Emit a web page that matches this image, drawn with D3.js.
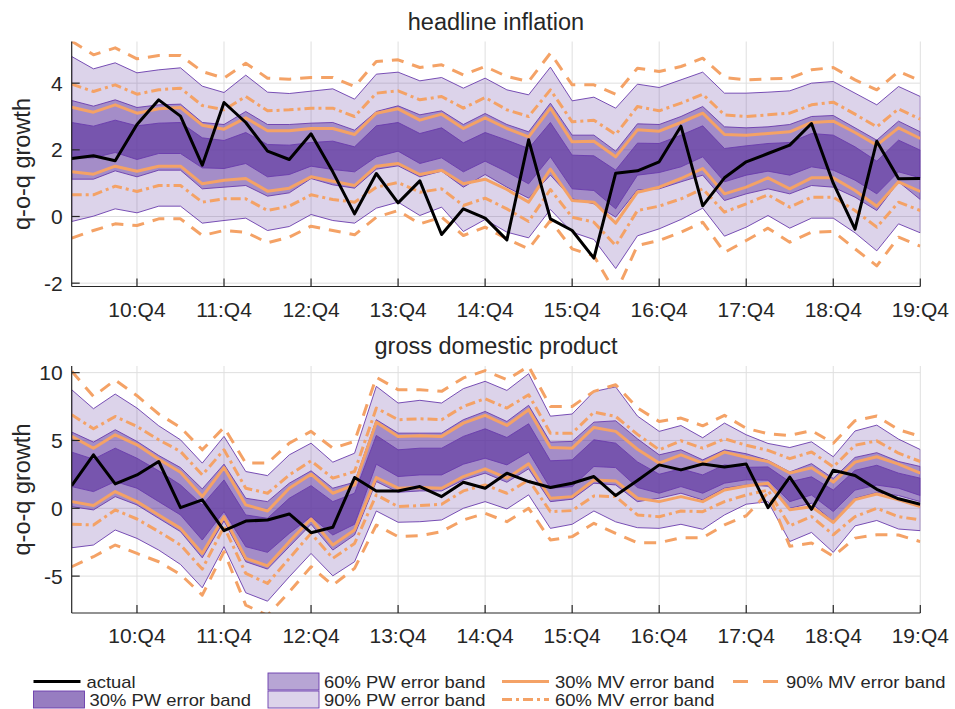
<!DOCTYPE html>
<html><head><meta charset="utf-8">
<script src="https://cdn.jsdelivr.net/npm/d3@7"></script>
<style>
body{margin:0;background:#fff}
svg{display:block}
text{font-family:"Liberation Sans",Arial,Helvetica,sans-serif;fill:#262626}
</style>
</head><body>
<svg id="c" width="955" height="709"></svg>
<script>
// ---------- categories ----------
const quarters = [
 "10:Q1","10:Q2","10:Q3","10:Q4","11:Q1","11:Q2","11:Q3","11:Q4",
 "12:Q1","12:Q2","12:Q3","12:Q4","13:Q1","13:Q2","13:Q3","13:Q4",
 "14:Q1","14:Q2","14:Q3","14:Q4","15:Q1","15:Q2","15:Q3","15:Q4",
 "16:Q1","16:Q2","16:Q3","16:Q4","17:Q1","17:Q2","17:Q3","17:Q4",
 "18:Q1","18:Q2","18:Q3","18:Q4","19:Q1","19:Q2","19:Q3","19:Q4"];
const tickQuarters = ["10:Q4","11:Q4","12:Q4","13:Q4","14:Q4","15:Q4","16:Q4","17:Q4","18:Q4","19:Q4"];

// ---------- headline inflation ----------
const infTicks = [-2,0,2,4];
const infActual = [1.74,1.82,1.67,2.76,3.5,3.01,1.54,3.42,2.82,1.96,1.71,2.48,1.34,0.08,1.29,0.41,1.07,-0.54,0.23,-0.05,-0.7,2.3,-0.07,-0.42,-1.25,1.3,1.37,1.64,2.71,0.32,1.16,1.64,1.89,2.14,2.79,1.0,-0.38,2.26,1.13,1.14];
const infPW90Hi = [4.8,4.43,4.61,4.31,4.4,4.46,3.91,3.72,4.24,3.73,3.69,3.76,3.83,3.52,4.27,4.33,4.07,4.17,3.85,4.15,3.8,3.65,4.48,3.47,3.58,3.25,3.97,3.87,4.1,4.33,3.7,3.7,3.73,3.77,4.0,4.05,3.7,3.35,3.9,3.6];
const infPW90Lo = [-0.15,0.01,0.23,0.11,0.31,0.31,-0.2,-0.12,-0.05,-0.42,-0.3,0.06,-0.12,-0.2,0.25,0.43,0.03,0.28,-0.45,-0.09,-0.47,-0.64,0.21,-0.47,-0.69,-1.56,-0.58,-0.37,-0.09,0.25,-0.59,-0.32,0.03,-0.35,-0.05,-0.05,-0.49,-1.03,-0.22,-0.49];
const infPW60Hi = [3.48,3.31,3.5,3.27,3.35,3.37,2.82,2.76,3.15,2.76,2.76,2.8,2.82,2.59,3.15,3.32,3.05,3.17,2.76,3.09,2.76,2.54,3.4,2.44,2.44,1.96,2.78,2.76,3.0,3.3,2.69,2.66,2.69,2.76,3.0,3.03,2.66,2.29,2.86,2.54];
const infPW60Lo = [1.12,1.12,1.37,1.19,1.39,1.39,0.83,0.88,0.93,0.61,0.71,1.14,0.95,0.85,1.42,1.52,1.19,1.36,0.88,1.26,0.88,0.55,1.24,0.53,0.38,-0.02,0.8,0.83,1.04,1.24,0.48,0.68,0.83,0.68,0.93,0.88,0.58,0.18,1.04,0.51];
const infPW30Hi = [2.82,2.71,2.89,2.72,2.8,2.82,2.36,2.28,2.52,2.16,2.14,2.22,2.26,2.09,2.72,2.82,2.49,2.66,2.21,2.52,2.29,2.04,2.82,1.84,1.82,1.39,2.2,2.19,2.44,2.72,2.04,2.12,2.19,2.22,2.49,2.44,2.09,1.66,2.29,1.99];
const infPW30Lo = [1.76,1.76,1.92,1.71,1.89,1.89,1.46,1.44,1.59,1.19,1.26,1.51,1.41,1.34,1.79,1.96,1.59,1.76,1.34,1.66,1.34,0.98,1.79,0.83,0.78,0.23,1.24,1.32,1.49,1.79,1.04,1.24,1.36,1.24,1.49,1.39,1.09,0.68,1.34,1.16];
const infMV30Hi = [3.28,3.13,3.35,3.1,3.23,3.27,2.74,2.62,2.96,2.57,2.57,2.64,2.64,2.46,3.1,3.23,2.89,3.07,2.64,2.96,2.64,2.39,3.25,2.24,2.26,1.79,2.6,2.56,2.82,3.1,2.46,2.44,2.49,2.54,2.82,2.86,2.52,2.14,2.66,2.34];
const infMV30Lo = [1.34,1.27,1.51,1.36,1.51,1.51,0.98,1.09,1.14,0.76,0.85,1.19,1.06,0.93,1.51,1.59,1.26,1.39,0.98,1.12,0.81,0.43,1.42,0.48,0.43,-0.2,0.73,0.88,1.14,1.44,0.68,0.88,1.16,0.83,1.16,1.16,0.78,0.31,1.04,0.75];
const infMV60Hi = [3.97,3.75,3.95,3.67,3.8,3.85,3.33,3.2,3.6,3.17,3.2,3.25,3.25,3.0,3.7,3.77,3.5,3.6,3.25,3.57,3.2,3.0,3.8,2.84,2.89,2.46,3.3,3.17,3.4,3.67,3.05,3.0,3.05,3.1,3.35,3.43,3.07,2.69,3.23,2.92];
const infMV60Lo = [0.65,0.65,0.91,0.75,0.93,0.93,0.43,0.53,0.53,0.18,0.31,0.65,0.51,0.43,0.88,1.02,0.73,0.83,0.33,0.55,0.23,-0.15,0.81,-0.02,-0.17,-0.87,0.18,0.31,0.53,0.83,0.13,0.38,0.65,0.28,0.58,0.58,0.18,-0.32,0.43,0.18];
const infMV90Hi = [5.26,4.85,5.06,4.73,4.83,4.83,4.35,4.15,4.6,4.15,4.12,4.17,4.17,3.9,4.65,4.7,4.47,4.55,4.25,4.5,4.2,4.05,4.9,3.95,3.95,3.67,4.45,4.35,4.5,4.75,4.17,4.1,4.13,4.15,4.4,4.47,4.1,3.8,4.35,4.07];
const infMV90Lo = [-0.65,-0.42,-0.22,-0.27,-0.07,-0.07,-0.57,-0.42,-0.47,-0.79,-0.62,-0.29,-0.42,-0.55,-0.02,0.18,-0.22,-0.02,-0.57,-0.32,-0.67,-0.97,-0.12,-0.97,-1.18,-2.3,-0.87,-0.72,-0.47,-0.17,-1.08,-0.72,-0.35,-0.77,-0.47,-0.45,-0.97,-1.48,-0.62,-0.89];

// ---------- gross domestic product ----------
const gdpTicks = [-5,0,5,10];
const gdpActual = [1.67,3.94,1.8,2.46,3.45,0.05,0.62,-1.65,-0.94,-0.86,-0.42,-1.8,-1.4,2.27,1.28,1.28,1.6,0.86,1.92,1.48,2.59,1.97,1.53,1.85,2.34,0.94,2.05,3.2,2.83,3.26,3.05,3.26,0.05,2.3,-0.08,2.81,2.42,1.4,0.7,0.3];
const gdpPW90Hi = [8.74,7.34,8.42,7.39,6.08,5.05,3.33,5.3,2.71,2.41,3.94,4.8,3.4,4.06,8.99,7.76,7.96,7.76,8.82,9.36,8.69,9.92,6.79,6.95,8.61,8.95,6.8,5.67,6.1,5.2,6.28,5.42,4.78,4.48,4.9,3.8,5.7,6.13,5.1,4.33];
const gdpPW90Lo = [-2.91,-2.71,-1.6,-2.22,-3.08,-4.14,-5.86,-2.83,-6.23,-6.85,-5.05,-3.33,-4.98,-3.94,-0.2,-1.03,-0.99,-0.86,0.0,0.49,-0.05,0.99,-1.48,-1.18,-0.2,-1.0,-1.43,-1.48,-1.18,-1.55,-0.49,0.3,0.49,-2.45,-1.78,-3.25,-1.3,-0.9,-1.53,-1.65];
const gdpPW60Hi = [5.62,4.88,5.79,4.93,3.89,3.0,1.43,3.25,0.74,0.49,1.85,2.76,1.48,1.92,6.53,5.54,5.54,5.54,6.53,7.14,6.4,7.59,4.88,4.93,6.35,6.45,5.12,3.94,4.31,3.57,4.31,4.02,3.54,2.68,3.29,2.2,3.75,4.1,3.45,3.08];
const gdpPW60Lo = [0.12,-0.12,0.86,0.25,-0.74,-1.72,-3.65,-0.94,-3.94,-4.48,-2.83,-1.18,-3.08,-1.97,1.97,1.18,1.28,1.28,2.09,2.59,1.92,2.91,0.49,0.67,1.85,1.72,0.49,0.74,1.11,0.62,1.48,1.71,1.63,0.0,0.37,-0.98,0.73,1.15,0.94,0.49];
const gdpPW30Hi = [4.14,3.62,4.43,3.69,2.76,1.72,0.25,2.09,-0.49,-0.74,0.74,1.67,0.49,1.11,5.37,4.31,4.43,4.43,5.3,5.86,5.22,6.23,3.5,3.57,5.05,4.8,3.42,2.51,2.91,2.46,3.2,3.02,3.05,1.95,2.32,1.34,2.8,3.17,2.59,2.22];
const gdpPW30Lo = [1.6,1.23,1.97,1.48,0.49,-0.49,-2.34,-0.25,-2.83,-3.25,-1.85,-0.62,-1.97,-1.18,3.25,2.34,2.46,2.46,3.25,3.69,3.2,4.14,1.48,1.6,3.08,3.0,1.53,1.11,1.6,1.11,1.85,2.1,2.07,0.49,0.98,-0.24,1.34,1.71,1.48,0.94];
const gdpMV30Hi = [5.3,4.43,5.42,4.68,3.62,2.66,0.86,3.0,0.25,-0.2,1.48,2.51,1.11,1.72,6.35,5.3,5.34,5.3,6.28,6.85,6.11,7.27,4.48,4.43,5.96,5.67,4.35,3.33,3.94,3.33,4.14,3.76,3.45,2.6,2.98,1.93,3.4,3.8,3.25,2.59];
const gdpMV30Lo = [0.49,0.2,1.23,0.49,-0.49,-1.48,-3.33,-0.62,-3.69,-4.24,-2.46,-0.79,-2.71,-1.6,2.27,1.48,1.53,1.48,2.34,2.91,2.22,3.28,0.74,0.86,2.09,2.02,0.74,0.49,0.86,0.49,1.35,1.65,1.85,-0.1,0.12,-1.05,0.64,1.05,0.62,0.12];
const gdpMV60Hi = [6.9,5.86,6.77,6.03,5.05,4.19,2.46,4.31,1.48,1.11,2.46,3.5,2.22,2.71,7.39,6.53,6.6,6.53,7.51,8.08,7.39,8.37,5.54,5.54,7.09,6.77,5.45,4.31,4.98,4.43,5.12,4.65,4.27,3.66,4.15,3.05,4.65,4.97,4.06,3.45];
const gdpMV60Lo = [-1.18,-1.23,-0.12,-0.79,-1.72,-2.71,-4.48,-1.35,-4.8,-5.54,-3.69,-1.85,-3.69,-2.59,0.99,0.12,0.2,0.3,1.28,1.72,1.11,2.09,-0.25,-0.17,0.91,0.86,-0.49,-0.62,-0.2,-0.25,0.49,0.98,1.34,-1.3,-0.61,-1.95,-0.61,0.0,-0.62,-0.86];
const gdpMV90Hi = [10.1,8.25,9.46,8.3,6.95,5.96,4.31,5.96,3.33,3.33,4.8,5.67,4.43,4.93,9.66,8.74,8.74,8.62,9.61,10.15,9.48,10.47,7.51,7.51,8.62,9.11,7.4,6.4,6.65,6.08,6.85,5.9,5.49,5.37,5.73,4.8,6.46,6.8,5.79,5.3];
const gdpMV90Lo = [-4.31,-3.57,-2.71,-3.33,-3.94,-4.88,-6.4,-3.2,-7.14,-7.9,-6.16,-4.31,-5.67,-4.43,-1.23,-2.09,-2.02,-1.72,-0.86,-0.37,-0.99,0.0,-2.34,-2.09,-1.11,-1.85,-2.54,-2.54,-2.17,-2.17,-1.23,-0.55,1.15,-2.8,-2.56,-3.54,-2.2,-1.95,-1.97,-2.46];

// ---------- legend labels ----------
const legendLabels = ["actual","30% PW error band","60% PW error band","90% PW error band","30% MV error band","60% MV error band","90% MV error band"];

// ---------- styling / layout ----------
const xLeft = 71.7, xRight = 920.3;
const bandColor = "rgb(95,55,160)";
const bandEdge = "#6a3cad";
const orange = "#f4a266";
const axisColor = "#262626";
const gridColor = "#dfdfdf";
const alphas = {pw90: 0.22, pw60: 0.45, pw30: 0.65};
const dashes = {solid: null, dashdot: "10,4,3,4", dashed: "12,9"};

const svg = d3.select("#c");
const defs = svg.append("defs");
const x = d3.scalePoint().domain(quarters).range([xLeft, xRight]);

const panels = [
  {title:"headline inflation", top:41.5, bottom:286.5, domain:[-2.1,5.25], ticks:infTicks,
   actual:infActual,
   pw:[[infPW90Lo,infPW90Hi,alphas.pw90],[infPW60Lo,infPW60Hi,alphas.pw60],[infPW30Lo,infPW30Hi,alphas.pw30]],
   mv:[[infMV30Lo,infMV30Hi,"solid"],[infMV60Lo,infMV60Hi,"dashdot"],[infMV90Lo,infMV90Hi,"dashed"]]},
  {title:"gross domestic product", top:366, bottom:613, domain:[-7.72,10.49], ticks:gdpTicks,
   actual:gdpActual,
   pw:[[gdpPW90Lo,gdpPW90Hi,alphas.pw90],[gdpPW60Lo,gdpPW60Hi,alphas.pw60],[gdpPW30Lo,gdpPW30Hi,alphas.pw30]],
   mv:[[gdpMV30Lo,gdpMV30Hi,"solid"],[gdpMV60Lo,gdpMV60Hi,"dashdot"],[gdpMV90Lo,gdpMV90Hi,"dashed"]]}
];

panels.forEach((p, k) => {
  const y = d3.scaleLinear().domain(p.domain).range([p.bottom, p.top]);
  const g = svg.append("g");
  const clipId = "clip" + k;
  defs.append("clipPath").attr("id", clipId).append("rect")
    .attr("x", xLeft).attr("y", p.top).attr("width", xRight - xLeft).attr("height", p.bottom - p.top);

  // grid
  g.append("g").selectAll("line").data(tickQuarters).join("line")
    .attr("x1", d => x(d)).attr("x2", d => x(d)).attr("y1", p.top).attr("y2", p.bottom)
    .attr("stroke", gridColor).attr("stroke-width", 1);
  g.append("g").selectAll("line").data(p.ticks).join("line")
    .attr("x1", xLeft).attr("x2", xRight).attr("y1", d => y(d)).attr("y2", d => y(d))
    .attr("stroke", gridColor).attr("stroke-width", 1);

  const plot = g.append("g").attr("clip-path", `url(#${clipId})`);
  const area = d3.area().x((d, i) => x(quarters[i])).y0(d => y(d[0])).y1(d => y(d[1]));
  const line = d3.line().x((d, i) => x(quarters[i])).y(d => y(d));

  p.pw.forEach(([lo, hi, a]) => {
    plot.append("path").datum(d3.zip(lo, hi)).attr("d", area)
      .attr("fill", bandColor).attr("fill-opacity", a)
      .attr("stroke", bandEdge).attr("stroke-width", 0.9).attr("stroke-linejoin", "round");
  });
  p.mv.forEach(([lo, hi, st]) => {
    [lo, hi].forEach(s => {
      plot.append("path").datum(s).attr("d", line).attr("fill", "none")
        .attr("stroke", orange).attr("stroke-width", 3)
        .attr("stroke-dasharray", dashes[st]).attr("stroke-linejoin", "round");
    });
  });
  plot.append("path").datum(p.actual).attr("d", line).attr("fill", "none")
    .attr("stroke", "#000").attr("stroke-width", 3).attr("stroke-linejoin", "round");

  // axes
  g.append("line").attr("x1", xLeft).attr("x2", xLeft).attr("y1", p.top).attr("y2", p.bottom)
    .attr("stroke", axisColor).attr("stroke-width", 1.2);
  g.append("line").attr("x1", xLeft).attr("x2", xRight).attr("y1", p.bottom).attr("y2", p.bottom)
    .attr("stroke", axisColor).attr("stroke-width", 1.2);
  g.append("g").selectAll("line").data(p.ticks).join("line")
    .attr("x1", xLeft).attr("x2", xLeft + 8).attr("y1", d => y(d)).attr("y2", d => y(d))
    .attr("stroke", axisColor).attr("stroke-width", 1.2);
  g.append("g").selectAll("line").data(tickQuarters).join("line")
    .attr("x1", d => x(d)).attr("x2", d => x(d)).attr("y1", p.bottom).attr("y2", p.bottom - 8)
    .attr("stroke", axisColor).attr("stroke-width", 1.2);
  g.append("g").selectAll("text").data(p.ticks).join("text")
    .attr("x", xLeft - 9).attr("y", d => y(d) + 7.5).attr("text-anchor", "end")
    .attr("font-size", 21).text(d => d);
  g.append("g").selectAll("text").data(tickQuarters).join("text")
    .attr("x", d => x(d)).attr("y", p.bottom + 30).attr("text-anchor", "middle")
    .attr("font-size", 21).text(d => d);
  g.append("text").attr("x", (xLeft + xRight) / 2).attr("y", p.top - 12)
    .attr("text-anchor", "middle").attr("font-size", 23.5).attr("fill", "#000").text(p.title);
  g.append("text").attr("transform", `translate(30,${(p.top + p.bottom) / 2}) rotate(-90)`)
    .attr("text-anchor", "middle").attr("font-size", 23.5).text("q-o-q growth");
});

// ---------- legend ----------
const colX = [33.5, 268, 502, 733];
const rowY = [681.5, 699.5];
const legendItems = [
  {label:legendLabels[0], col:0, row:0, kind:"line", color:"#000", dash:null},
  {label:legendLabels[1], col:0, row:1, kind:"patch", alpha:alphas.pw30},
  {label:legendLabels[2], col:1, row:0, kind:"patch", alpha:alphas.pw60},
  {label:legendLabels[3], col:1, row:1, kind:"patch", alpha:alphas.pw90},
  {label:legendLabels[4], col:2, row:0, kind:"line", color:orange, dash:dashes.solid},
  {label:legendLabels[5], col:2, row:1, kind:"line", color:orange, dash:dashes.dashdot},
  {label:legendLabels[6], col:3, row:0, kind:"line", color:orange, dash:"15,15"}
];
const lg = svg.append("g");
legendItems.forEach(it => {
  const x0 = colX[it.col], cy = rowY[it.row];
  if (it.kind === "line") {
    lg.append("line").attr("x1", x0).attr("x2", x0 + 47).attr("y1", cy).attr("y2", cy)
      .attr("stroke", it.color).attr("stroke-width", 3).attr("stroke-dasharray", it.dash);
  } else {
    lg.append("rect").attr("x", x0).attr("y", cy - 8.5).attr("width", 51).attr("height", 17)
      .attr("fill", bandColor).attr("fill-opacity", it.alpha).attr("stroke", bandEdge).attr("stroke-width", 0.9);
  }
  const tx = x0 + (it.kind === "patch" ? 56 : 53);
  lg.append("text").attr("transform", `translate(${tx},${cy + 6}) scale(1.15,1)`)
    .attr("font-size", 16).attr("fill", "#000").text(it.label);
});
</script>
</body></html>
